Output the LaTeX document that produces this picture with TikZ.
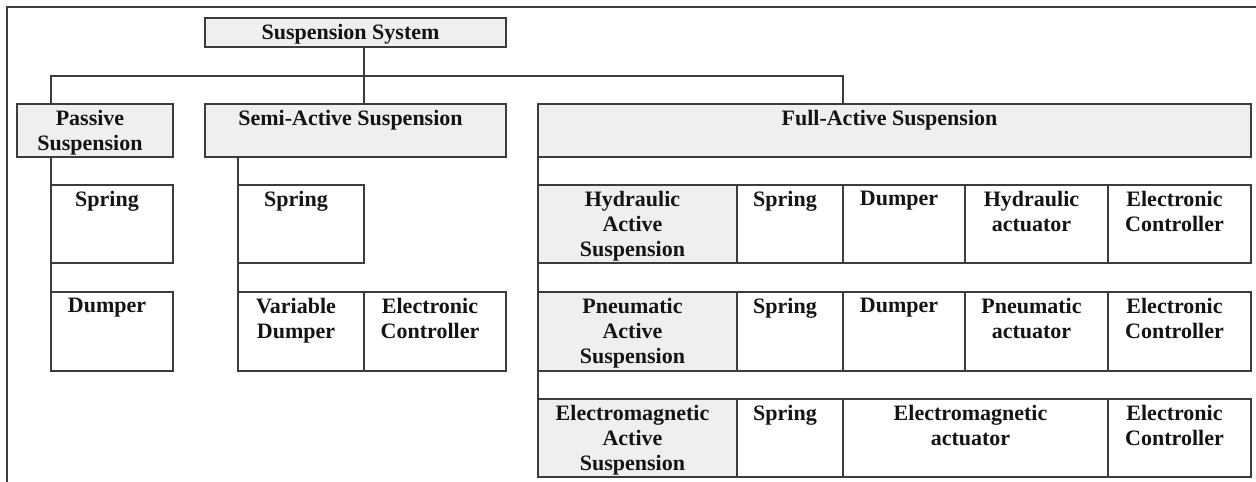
\documentclass[tikz,border=0pt]{standalone}
\usepackage{fontspec}
\setmainfont{Liberation Serif}
\definecolor{lineclr}{HTML}{3C3C3C}
\definecolor{fillclr}{HTML}{EFEFEF}
\definecolor{txtclr}{HTML}{141414}
\newcommand{\cellnode}[7]{%
  \node[#6, minimum width=#4pt, minimum height=#5pt] (#1) at (#2,#3) {};
  \node[lbl] (#1-t) at ([xshift=-5pt,yshift=-6pt]#1.north) {#7};}
\begin{document}
\begin{tikzpicture}[x=1pt,y=-1pt,
  cellbox/.style={draw=lineclr, line width=1.5pt, fill=white, anchor=north west, inner sep=0pt, outer sep=0pt},
  graybox/.style={cellbox, fill=fillclr},
  lbl/.style={anchor=north, inner sep=0pt, align=center, text=txtclr, font=\bfseries\fontsize{22}{25}\selectfont},
  link/.style={draw=lineclr, line width=1.5pt}]
\useasboundingbox (0,0) rectangle (1256,482);
\draw[link, line width=2pt] (7,482) -- (7,7) -- (1256,7);
% top
\cellnode{sys}{205}{18}{301}{29}{graybox}{Suspension System}
% second level
\cellnode{passive}{17}{104}{156}{53}{graybox}{Passive\\Suspension}
\cellnode{semi}{205}{104}{301}{53}{graybox}{Semi-Active Suspension}
\cellnode{full}{538}{104}{713}{53}{graybox}{Full-Active Suspension}
% passive children
\cellnode{pspring}{51}{185}{122}{78}{cellbox}{Spring}
\cellnode{pdump}{51}{292}{122}{79}{cellbox}{Dumper}
% semi children
\cellnode{sspring}{238}{185}{126}{78}{cellbox}{Spring}
\cellnode{sdump}{238}{292}{126}{79}{cellbox}{Variable\\Dumper}
\cellnode{sctrl}{364}{292}{142}{79}{cellbox}{Electronic\\Controller}
% full rows
\cellnode{h1}{538}{185}{199}{78}{graybox}{Hydraulic\\Active\\Suspension}
\cellnode{h2}{737}{185}{106}{78}{cellbox}{Spring}
\cellnode{h3}{843}{185}{122}{78}{cellbox}{Dumper}
\cellnode{h4}{965}{185}{143}{78}{cellbox}{Hydraulic\\actuator}
\cellnode{h5}{1108}{185}{143}{78}{cellbox}{Electronic\\Controller}
\cellnode{p1}{538}{292}{199}{79}{graybox}{Pneumatic\\Active\\Suspension}
\cellnode{p2}{737}{292}{106}{79}{cellbox}{Spring}
\cellnode{p3}{843}{292}{122}{79}{cellbox}{Dumper}
\cellnode{p4}{965}{292}{143}{79}{cellbox}{Pneumatic\\actuator}
\cellnode{p5}{1108}{292}{143}{79}{cellbox}{Electronic\\Controller}
\cellnode{e1}{538}{399}{199}{78}{graybox}{Electromagnetic\\Active\\Suspension}
\cellnode{e2}{737}{399}{106}{78}{cellbox}{Spring}
\cellnode{e3}{843}{399}{265}{78}{cellbox}{Electromagnetic\\actuator}
\cellnode{e5}{1108}{399}{143}{78}{cellbox}{Electronic\\Controller}
% connectors
\coordinate (jsemi) at (364,76);
\coordinate (jfull) at (843,76);
\draw[link] (sys.south -| jsemi) -- (semi.north -| jsemi);
\draw[link] (passive.north -| pspring.west) |- (jfull) -- (full.north -| jfull);
\draw[link] (passive.south -| pspring.west) -- (pdump.north west);
\draw[link] (semi.south -| sspring.west) -- (sdump.north west);
\draw[link] (full.south west) -- (e1.north west);
\end{tikzpicture}
\end{document}
